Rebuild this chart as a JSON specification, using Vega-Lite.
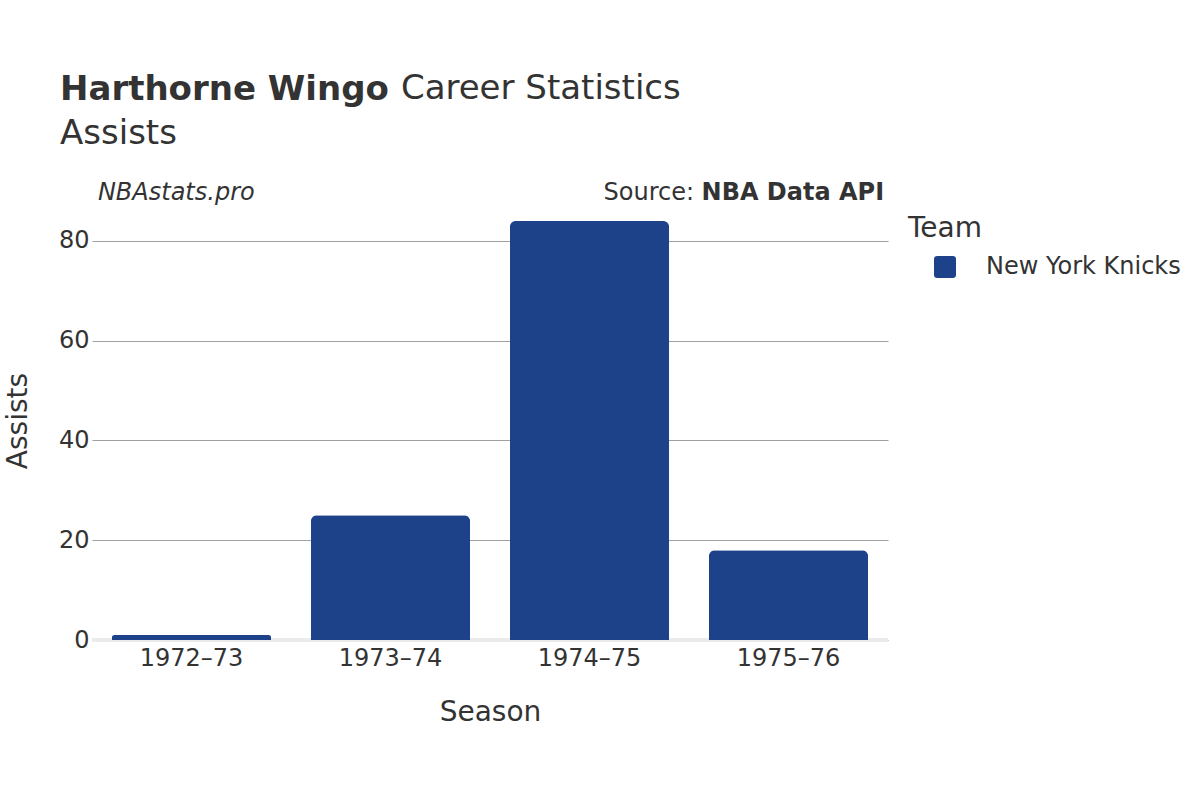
{
  "$schema": "https://vega.github.io/schema/vega-lite/v6.json",
  "width": 796,
  "height": 439,
  "autosize": {"type": "none"},
  "padding": {"left": 92, "top": 201, "right": 312, "bottom": 160},
  "background": "white",
  "data": {
    "values": [
      {"Season": "1972–73", "Team": "New York Knicks", "Assists": 1},
      {"Season": "1973–74", "Team": "New York Knicks", "Assists": 25},
      {"Season": "1974–75", "Team": "New York Knicks", "Assists": 84},
      {"Season": "1975–76", "Team": "New York Knicks", "Assists": 18}
    ]
  },
  "title": {
    "text": "Harthorne Wingo",
    "subtitle": "Assists",
    "anchor": "start",
    "frame": "group",
    "dx": -32,
    "offset": -79,
    "font": "DejaVu Sans",
    "subtitleFont": "DejaVu Sans",
    "fontSize": 34,
    "subtitleFontSize": 34,
    "fontWeight": "bold",
    "subtitleFontWeight": "normal",
    "color": "#333333",
    "subtitleColor": "#333333",
    "subtitlePadding": 10
  },
  "config": {
    "view": {"stroke": null},
    "font": "DejaVu Sans",
    "axis": {
      "labelFont": "DejaVu Sans",
      "titleFont": "DejaVu Sans",
      "labelColor": "#333333",
      "titleColor": "#333333",
      "titleFontWeight": "normal"
    }
  },
  "layer": [
    {
      "data": {"values": [{"v": 0}]},
      "mark": {"type": "rule", "color": "#ebebeb", "strokeWidth": 4},
      "encoding": {"y": {"datum": 0, "type": "quantitative"}}
    },
    {
      "mark": {"type": "bar", "cornerRadiusEnd": 6},
      "encoding": {
        "x": {
          "field": "Season",
          "type": "nominal",
          "sort": null,
          "scale": {"paddingInner": 0.2, "paddingOuter": 0.1},
          "axis": {
            "title": "Season",
            "labelAngle": 0,
            "labelFontSize": 24,
            "titleFontSize": 28,
            "ticks": false,
            "domain": false,
            "grid": false,
            "labelPadding": 6,
            "titlePadding": 28
          }
        },
        "y": {
          "field": "Assists",
          "type": "quantitative",
          "scale": {"domain": [0, 88], "nice": false},
          "axis": {
            "title": "Assists",
            "grid": true,
            "values": [0, 20, 40, 60, 80],
            "labelFontSize": 24,
            "titleFontSize": 28,
            "ticks": false,
            "domain": false,
            "labelPadding": 3,
            "titlePadding": 26,
            "gridColor": "#a0a0a0",
            "gridWidth": 1
          }
        },
        "color": {
          "field": "Team",
          "type": "nominal",
          "scale": {"range": ["#1D428A"]},
          "legend": {
            "title": "Team",
            "orient": "none",
            "legendX": 816,
            "legendY": 14,
            "titleFont": "DejaVu Sans",
            "titleFontSize": 28,
            "titleFontWeight": "normal",
            "titleColor": "#333333",
            "titlePadding": 12,
            "labelFont": "DejaVu Sans",
            "labelFontSize": 24,
            "labelColor": "#333333",
            "labelLimit": 400,
            "symbolType": "M-0.7,-1L0.7,-1Q1,-1 1,-0.7L1,0.7Q1,1 0.7,1L-0.7,1Q-1,1 -1,0.7L-1,-0.7Q-1,-1 -0.7,-1Z",
            "symbolSize": 484,
            "symbolStrokeWidth": 0,
            "symbolOffset": 25,
            "labelOffset": 29
          }
        }
      }
    },
    {
      "data": {"values": [{"t": "NBAstats.pro"}]},
      "mark": {"type": "text", "align": "left", "baseline": "alphabetic", "fontStyle": "italic", "fontSize": 24, "color": "#333333", "dx": -14, "dy": -1},
      "encoding": {
        "x": {"datum": "1972–73", "bandPosition": 0},
        "y": {"datum": 88, "type": "quantitative"},
        "text": {"field": "t"}
      }
    },
    {
      "data": {"values": [{"t": "NBA Data API"}]},
      "mark": {"type": "text", "align": "right", "baseline": "alphabetic", "fontWeight": "bold", "fontSize": 24, "color": "#333333", "dx": 16, "dy": -1},
      "encoding": {
        "x": {"datum": "1975–76", "bandPosition": 1},
        "y": {"datum": 88, "type": "quantitative"},
        "text": {"field": "t"}
      }
    },
    {
      "data": {"values": [{"t": "Source:"}]},
      "mark": {"type": "text", "align": "right", "baseline": "alphabetic", "fontSize": 24, "color": "#333333", "dx": -174, "dy": -1},
      "encoding": {
        "x": {"datum": "1975–76", "bandPosition": 1},
        "y": {"datum": 88, "type": "quantitative"},
        "text": {"field": "t"}
      }
    },
    {
      "data": {"values": [{"t": "Career Statistics"}]},
      "mark": {"type": "text", "align": "left", "baseline": "alphabetic", "fontSize": 34, "color": "#333333", "dx": 289, "dy": -102},
      "encoding": {
        "x": {"datum": "1972–73", "bandPosition": 0},
        "y": {"datum": 88, "type": "quantitative"},
        "text": {"field": "t"}
      }
    }
  ]
}
